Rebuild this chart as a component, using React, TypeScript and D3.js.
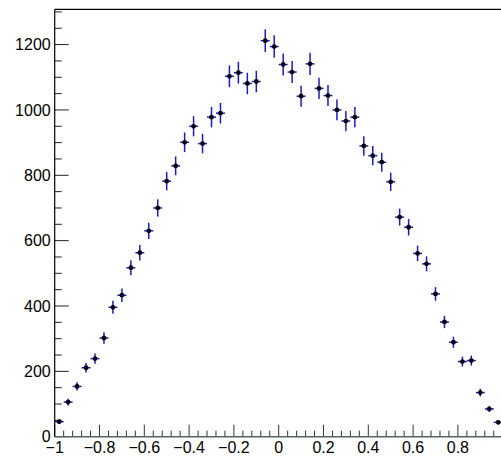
import * as d3 from "d3";
import { useEffect, useRef } from "react";

// histogram: 50 bins over [-1, 1]
const binLow = -1;
const binHigh = 1;
const counts = [
  46, 106, 154, 211, 239, 302, 396, 433, 517, 563,
  630, 700, 782, 829, 901, 950, 897, 978, 990, 1103,
  1114, 1081, 1087, 1212, 1194, 1139, 1116, 1042, 1141, 1066,
  1044, 1000, 966, 978, 890, 860, 840, 780, 672, 641,
  561, 529, 437, 351, 289, 230, 233, 135, 85, 44,
];
const xTicks = [-1, -0.8, -0.6, -0.4, -0.2, 0, 0.2, 0.4, 0.6, 0.8];
const yTicks = [0, 200, 400, 600, 800, 1000, 1200];

const App = () => {
  const ref = useRef<SVGSVGElement>(null);

  useEffect(() => {
    const width = 501;
    const height = 458;
    const left = 54.7;
    const right = 502.7;
    const top = 9.3;
    const bottom = 436.7;
    const font = "'Liberation Sans', Arial, Helvetica, sans-serif";

    const svg = d3.select(ref.current);
    svg.selectAll("*").remove();
    svg.attr("width", width).attr("height", height);

    svg.append("rect").attr("width", width).attr("height", height).attr("fill", "white");

    const x = d3.scaleLinear().domain([binLow, binHigh]).range([left, right]);
    const y = d3.scaleLinear().domain([0, 1308]).range([bottom, top]);

    const nb = counts.length;
    const bw = (binHigh - binLow) / nb;
    const bins = counts.map((c, i) => ({ lo: binLow + i * bw, hi: binLow + (i + 1) * bw, c }));

    // minor ticks
    const xMinor = d3.range(0, 51).map((i) => binLow + i * 0.04);
    svg.append("g")
      .selectAll("line")
      .data(xMinor)
      .enter().append("line")
      .attr("x1", (d) => x(d)).attr("x2", (d) => x(d))
      .attr("y1", bottom).attr("y2", (d) => bottom - (Math.abs(Math.round(d * 5) - d * 5) < 1e-6 ? 12 : 6))
      .attr("stroke", "#333").attr("stroke-width", 1);

    const yMinor = d3.range(0, 1301, 50);
    svg.append("g")
      .selectAll("line")
      .data(yMinor)
      .enter().append("line")
      .attr("x1", left).attr("x2", (d) => left + (d % 200 === 0 ? 14 : 7))
      .attr("y1", (d) => y(d)).attr("y2", (d) => y(d))
      .attr("stroke", "#222").attr("stroke-width", 1);

    // frame
    svg.append("line").attr("x1", left).attr("x2", right).attr("y1", top).attr("y2", top)
      .attr("stroke", "black").attr("stroke-width", 1.2);
    svg.append("line").attr("x1", left).attr("x2", left).attr("y1", top).attr("y2", bottom)
      .attr("stroke", "black").attr("stroke-width", 1.2);
    svg.append("line").attr("x1", left).attr("x2", right).attr("y1", bottom).attr("y2", bottom)
      .attr("stroke", "#56665a").attr("stroke-width", 1.4);

    // labels
    svg.append("g")
      .selectAll("text")
      .data(yTicks)
      .enter().append("text")
      .attr("x", left - 4).attr("y", (d) => y(d))
      .attr("dy", "0.35em")
      .attr("text-anchor", "end")
      .attr("font-family", font).attr("font-size", 16)
      .text((d) => d);

    svg.append("g")
      .selectAll("text")
      .data(xTicks)
      .enter().append("text")
      .attr("x", (d) => x(d)).attr("y", 453)
      .attr("text-anchor", "middle")
      .attr("font-family", font).attr("font-size", 16)
      .text((d) => (d < 0 ? "\u2212" + Math.abs(d) : String(d)));

    // error bars
    const g = svg.append("g").attr("stroke", "#1a1acc").attr("stroke-width", 1.5);
    g.selectAll("line.v")
      .data(bins)
      .enter().append("line")
      .attr("x1", (d) => x((d.lo + d.hi) / 2)).attr("x2", (d) => x((d.lo + d.hi) / 2))
      .attr("y1", (d) => y(d.c + Math.sqrt(d.c))).attr("y2", (d) => y(Math.max(0, d.c - Math.sqrt(d.c))));
    g.selectAll("line.h")
      .data(bins)
      .enter().append("line")
      .attr("x1", (d) => x(d.lo)).attr("x2", (d) => x(d.hi))
      .attr("y1", (d) => y(d.c)).attr("y2", (d) => y(d.c));

    // markers
    svg.append("g")
      .selectAll("circle")
      .data(bins)
      .enter().append("circle")
      .attr("cx", (d) => x((d.lo + d.hi) / 2))
      .attr("cy", (d) => y(d.c))
      .attr("r", 2.4)
      .attr("fill", "black");
  }, []);

  return <svg ref={ref} style={{ position: "absolute", left: 0, top: 0 }} />;
};

export default App;
